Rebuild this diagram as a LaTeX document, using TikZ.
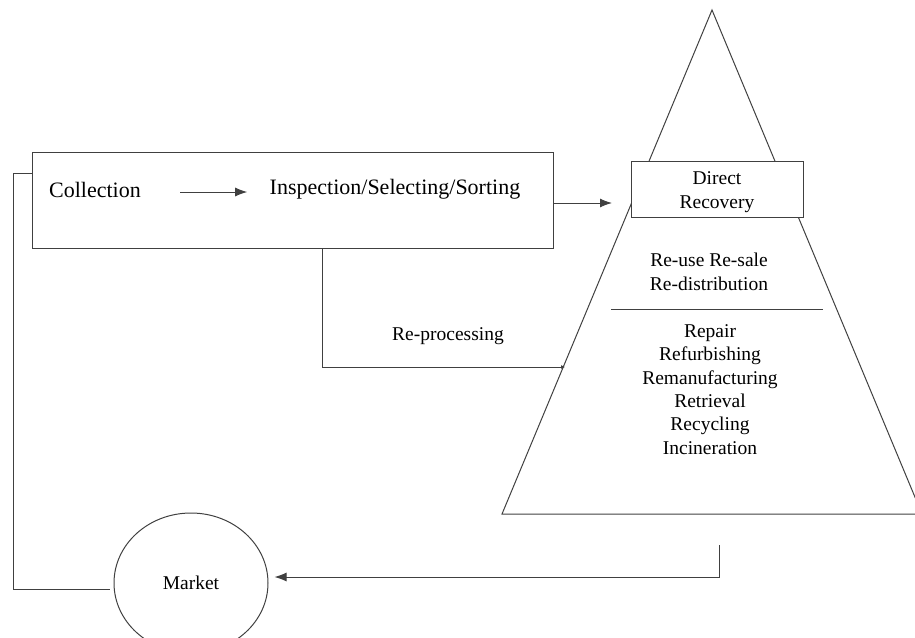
\documentclass[tikz,border=0pt]{standalone}
\usepackage{fontspec}
\setmainfont{Liberation Serif}
\usetikzlibrary{arrows.meta,shapes.geometric}
\begin{document}
\begin{tikzpicture}[x=1pt,y=-1pt,line width=1pt,
  ln/.style={draw=black!75},
  arr/.style={ln,-{Latex[length=12pt,width=9pt]}},
  txt/.style={inner sep=0pt,align=center,font=\fontsize{19.5}{23.4}\selectfont},
  big/.style={inner sep=0pt,font=\fontsize{22}{25}\selectfont}]
\useasboundingbox (0,0) rectangle (915,637);
\clip (0,0) rectangle (915,637);
% pyramid
\draw[ln] (712,10) -- (502,514) -- (922,514) -- cycle;
\draw[ln] (611,309) -- (823,309);
\node[txt] (reuse) at (709,272) {Re-use Re-sale\\Re-distribution};
\node[txt] (lower) at (710,389.5) {Repair\\Refurbishing\\Remanufacturing\\Retrieval\\Recycling\\Incineration};
\node[ln,fill=white,minimum width=172pt,minimum height=56pt,inner sep=0pt] (dr) at (717,189) {};
\node[txt] (drt) at (717,192) {Direct\\Recovery};
% main box
\node[ln,minimum width=521pt,minimum height=96pt,inner sep=0pt] (mb) at (292.5,200) {};
\node[big] (col) at (95,190) {Collection};
\node[big] (insp) at (395,189) {Inspection/Selecting/Sorting};
\draw[arr] ([xshift=39pt,yshift=-2pt]col.east) -- ([xshift=-22pt,yshift=-2pt]col.east -| insp.west);
\coordinate (a3) at (612,203);
\draw[arr] (mb.east |- a3) -- (a3);
% re-processing
\coordinate (rp1) at (322,367);
\coordinate (rp) at (565,367);
\draw[ln,-{Latex[length=4pt,width=4pt]}] (mb.south -| rp1) -- (rp1) -- (rp);
\node[txt] (rplab) at (448,336) {Re-processing};
% market
\node[ln,ellipse,minimum width=154pt,minimum height=140pt,txt] (mk) at (191,583) {Market};
\coordinate (p1) at (719,545);
\draw[arr,shorten >=6pt] (p1) |- ([yshift=6pt]mk.east);
\coordinate (fb) at (13,589);
\draw[ln] ([yshift=27pt]mb.west) -| (fb) -- ([xshift=-4pt,yshift=-6pt]mk.west);
\end{tikzpicture}
\end{document}
